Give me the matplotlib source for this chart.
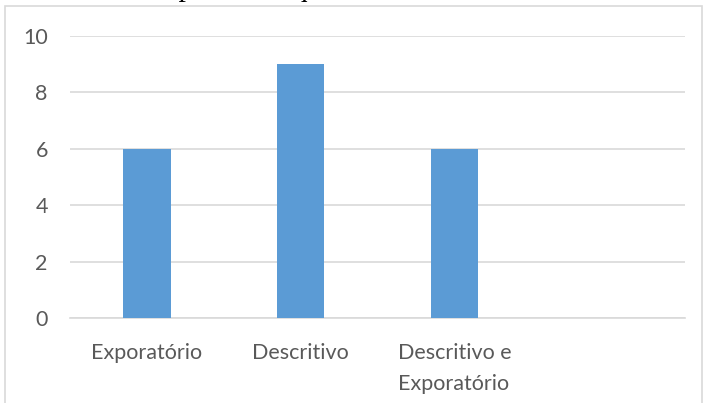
import matplotlib.pyplot as plt
from matplotlib.patches import Rectangle

# data
categorias = ['Exporatório', 'Descritivo', 'Descritivo e\nExporatório', '']
valores = [6, 9, 6, 0]
yticks = [0, 2, 4, 6, 8, 10]

W, H = 704, 403
fig = plt.figure(figsize=(W / 100, H / 100), dpi=100)

# caption, mostly cut off at the top of the picture
fig.text(10 / W, 1 + 4 / H, 'Gráfico 3 – Tipo de Pesquisa', family='Liberation Serif',
         fontsize=21.5, ha='left', va='baseline', color='black')

# chart border
fig.patches.append(Rectangle((5 / W, -0.1), 697 / W, 1.1 - 6 / H, transform=fig.transFigure,
                             fill=False, edgecolor='#d9d9d9', linewidth=1.2))

ax = fig.add_axes([70 / W, 1 - 318 / H, 615 / W, 282 / H])
x = range(len(categorias))
ax.bar(x, valores, width=0.31, color='#5b9bd5', zorder=3)

ax.set_xlim(-0.5, len(categorias) - 0.5)
ax.set_ylim(0, 10)
ax.set_yticks(yticks)
ax.set_xticks(list(x))
ax.set_xticklabels(categorias, family='Lato', fontsize=15.5, color='#595959',
                   ha='center', multialignment='left', linespacing=1.7)
ax.set_yticklabels([str(v) for v in yticks], family='Lato', fontsize=15.5, color='#595959')
ax.grid(axis='y', color='#d9d9d9', linewidth=1.2, zorder=0)
for s in ['top', 'right', 'left']:
    ax.spines[s].set_visible(False)
ax.spines['bottom'].set_color('#d9d9d9')
ax.spines['bottom'].set_linewidth(1.2)
ax.tick_params(length=0)
ax.tick_params(axis='y', pad=16)
ax.tick_params(axis='x', pad=18)

plt.savefig('out.png', dpi=100)
